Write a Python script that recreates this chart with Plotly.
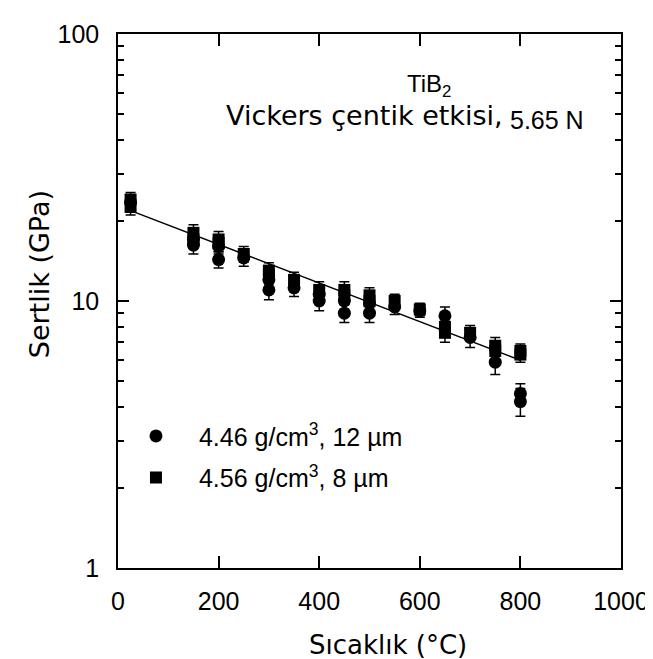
import plotly.graph_objects as go

# ---- data ----
circle_T = [25, 150, 150, 200, 200, 250, 300, 300, 350, 400, 400, 450, 450, 500, 500, 550, 600, 650, 700, 750, 800, 800]
circle_H = [23.5, 16.2, 17.0, 14.3, 16.0, 14.5, 11.0, 12.0, 11.2, 10.0, 10.6, 9.0, 10.0, 9.0, 9.8, 9.5, 9.2, 8.8, 7.3, 5.9, 4.2, 4.5]
circle_E = [1.5, 1.2, 1.2, 1.0, 1.0, 1.0, 0.9, 0.9, 0.8, 0.8, 0.8, 0.7, 0.7, 0.7, 0.7, 0.6, 0.5, 0.7, 0.6, 0.6, 0.5, 0.4]

square_T = [25, 25, 150, 150, 200, 200, 250, 300, 300, 350, 400, 450, 450, 500, 500, 550, 600, 650, 650, 700, 750, 750, 800, 800]
square_H = [22.5, 24.0, 18.0, 17.0, 17.0, 16.5, 15.0, 13.0, 12.5, 12.0, 11.0, 11.0, 10.5, 10.5, 10.0, 10.0, 9.3, 8.0, 7.6, 7.6, 6.8, 6.5, 6.5, 6.3]
square_E = [1.5, 1.5, 1.3, 1.2, 1.2, 1.2, 1.0, 0.9, 0.9, 0.8, 0.8, 0.8, 0.8, 0.7, 0.7, 0.6, 0.5, 0.6, 0.6, 0.5, 0.5, 0.5, 0.4, 0.4]

fit_T = [25, 800]
fit_H = [21.8, 6.0]

x_ticks = [0, 200, 400, 600, 800, 1000]
y_ticks = [1, 10, 100]
y_minor = [2, 3, 4, 5, 6, 7, 8, 9, 20, 30, 40, 50, 60, 70, 80, 90]

label_circle = "4.46 g/cm<sup>3</sup>, 12 µm"
label_square = "4.56 g/cm<sup>3</sup>, 8 µm"
x_title = "Sıcaklık (°C)"
y_title = "Sertlik (GPa)"

TXT = "DejaVu Sans"
NUM = "Liberation Sans, Arial"

fig = go.Figure()
fig.add_trace(go.Scatter(
    x=fit_T, y=fit_H, mode="lines", line=dict(color="black", width=1.5),
    showlegend=False, hoverinfo="skip"))
fig.add_trace(go.Scatter(
    x=circle_T, y=circle_H, mode="markers", name=label_circle, legendgroup="c",
    marker=dict(symbol="circle", size=13, color="black"),
    error_y=dict(type="data", array=circle_E, color="black", thickness=1.5, width=5)))
fig.add_trace(go.Scatter(
    x=square_T, y=square_H, mode="markers", name=label_square, legendgroup="s",
    marker=dict(symbol="square", size=12, color="black"),
    error_y=dict(type="data", array=square_E, color="black", thickness=1.5, width=5)))

axis_common = dict(
    showline=True, linecolor="black", linewidth=1.5, mirror="ticks",
    ticks="inside", tickcolor="black", tickwidth=1.5, showgrid=False, zeroline=False,
    tickfont=dict(family=NUM, size=25, color="black"),
)

fig.update_xaxes(range=[0, 1000], tickvals=x_ticks, ticklen=12,
                 ticklabelstandoff=10, **axis_common)
fig.update_yaxes(type="log", range=[0, 2], tickvals=y_ticks, ticklen=11,
                 ticklabelstandoff=12,
                 minor=dict(tickvals=y_minor, ticks="inside", ticklen=6,
                            tickcolor="black", tickwidth=1.5, showgrid=False),
                 **axis_common)

fig.update_layout(
    width=653, height=659,
    margin=dict(l=110, r=31, t=19, b=99),
    paper_bgcolor="white", plot_bgcolor="white",
    showlegend=True,
    legend=dict(x=-0.01, y=0.29, xanchor="left", yanchor="top",
                bgcolor="rgba(0,0,0,0)", tracegroupgap=6,
                font=dict(family=NUM, size=25, color="black"),
                itemwidth=76),
    annotations=[
        dict(text="TiB<sub>2</sub>", xref="paper", yref="paper",
             x=(427 - 110) / 512, y=(560 - 71) / 541, xanchor="center", yanchor="middle",
             showarrow=False, font=dict(family=NUM, size=24, color="black")),
        dict(text="Vickers çentik etkisi,", xref="paper", yref="paper",
             x=(218 - 110) / 512, y=(560 - 102) / 541, xanchor="left", yanchor="middle",
             showarrow=False, font=dict(family=TXT, size=27, color="black")),
        dict(text="5.65 N", xref="paper", yref="paper",
             x=(507 - 110) / 512, y=(560 - 106) / 541, xanchor="left", yanchor="middle",
             showarrow=False, font=dict(family=NUM, size=25, color="black")),
        dict(text=x_title, xref="paper", yref="paper",
             x=(385 - 110) / 512, y=(560 - 638) / 541, xanchor="center", yanchor="middle",
             showarrow=False, font=dict(family=TXT, size=26, color="black")),
        dict(text=y_title, xref="paper", yref="paper", textangle=-90,
             x=(30 - 110) / 512, y=(560 - 262) / 541, xanchor="center", yanchor="middle",
             showarrow=False, font=dict(family=TXT, size=27, color="black")),
    ],
)

fig.write_html("out.html")
